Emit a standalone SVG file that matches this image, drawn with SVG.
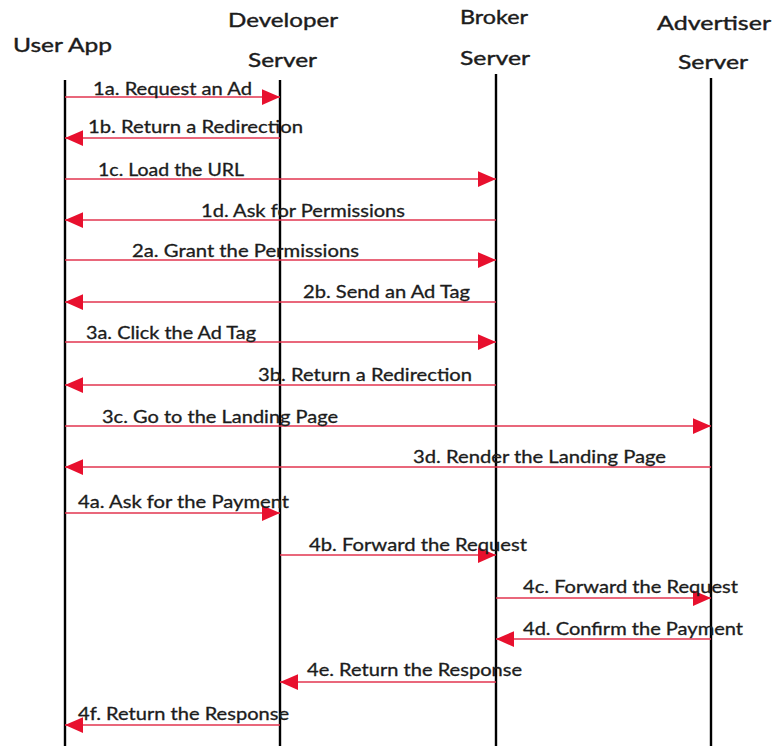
<svg xmlns="http://www.w3.org/2000/svg" width="773" height="746" viewBox="0 0 773 746">
<defs>
<style>
.hdr{font-family:Lato,"Open Sans","Liberation Sans",sans-serif;font-size:20px;fill:#1c1c1c;stroke:#1c1c1c;stroke-width:0.4}
.lbl{font-family:Lato,"Open Sans","Liberation Sans",sans-serif;font-size:16.5px;fill:#1c1c1c;stroke:#1c1c1c;stroke-width:0.3}
.life{stroke:#000;stroke-width:2.4;fill:none}
.msg{stroke:#e2344f;stroke-width:1.4;fill:none;marker-end:url(#ah)}
</style>
<marker id="ah" markerUnits="userSpaceOnUse" markerWidth="18" markerHeight="16" viewBox="0 0 16 14" refX="16" refY="7" orient="auto">
<path d="M0,0 L16,7 L0,14 Z" fill="#e8102e"/>
</marker>
</defs>
<rect width="773" height="746" fill="#fff"/>
<g id="user-app">
<text class="hdr" x="13" y="52" textLength="99" lengthAdjust="spacingAndGlyphs">User App</text>
<line class="life" x1="65" y1="80" x2="65" y2="746"/>
</g>
<g id="developer-server">
<text class="hdr" x="228" y="27" textLength="110" lengthAdjust="spacingAndGlyphs">Developer</text>
<text class="hdr" x="248" y="67" textLength="69" lengthAdjust="spacingAndGlyphs">Server</text>
<line class="life" x1="280" y1="80" x2="280" y2="746"/>
</g>
<g id="broker-server">
<text class="hdr" x="460" y="24" textLength="68" lengthAdjust="spacingAndGlyphs">Broker</text>
<text class="hdr" x="460" y="65" textLength="70" lengthAdjust="spacingAndGlyphs">Server</text>
<line class="life" x1="496" y1="74" x2="496" y2="746"/>
</g>
<g id="advertiser-server">
<text class="hdr" x="657" y="30" textLength="114" lengthAdjust="spacingAndGlyphs">Advertiser</text>
<text class="hdr" x="678" y="69" textLength="70" lengthAdjust="spacingAndGlyphs">Server</text>
<line class="life" x1="711" y1="78" x2="711" y2="746"/>
</g>
<g id="connectors">
<line class="msg" x1="65" y1="97" x2="280" y2="97"/>
<line class="msg" x1="280" y1="138" x2="65" y2="138"/>
<line class="msg" x1="65" y1="179" x2="496" y2="179"/>
<line class="msg" x1="496" y1="220" x2="65" y2="220"/>
<line class="msg" x1="65" y1="260" x2="496" y2="260"/>
<line class="msg" x1="496" y1="302" x2="65" y2="302"/>
<line class="msg" x1="65" y1="342" x2="496" y2="342"/>
<line class="msg" x1="496" y1="385" x2="65" y2="385"/>
<line class="msg" x1="65" y1="426" x2="711" y2="426"/>
<line class="msg" x1="711" y1="467" x2="65" y2="467"/>
<line class="msg" x1="65" y1="513" x2="280" y2="513"/>
<line class="msg" x1="280" y1="555" x2="496" y2="555"/>
<line class="msg" x1="496" y1="598" x2="711" y2="598"/>
<line class="msg" x1="711" y1="639" x2="496" y2="639"/>
<line class="msg" x1="496" y1="682" x2="280" y2="682"/>
<line class="msg" x1="280" y1="725" x2="65" y2="725"/>
</g>
<g id="labels">
<text class="lbl" x="93" y="95" textLength="159" lengthAdjust="spacingAndGlyphs">1a. Request an Ad</text>
<text class="lbl" x="88" y="133" textLength="215" lengthAdjust="spacingAndGlyphs">1b. Return a Redirection</text>
<text class="lbl" x="98" y="176" textLength="146" lengthAdjust="spacingAndGlyphs">1c. Load the URL</text>
<text class="lbl" x="201" y="217" textLength="204" lengthAdjust="spacingAndGlyphs">1d. Ask for Permissions</text>
<text class="lbl" x="132" y="257" textLength="227" lengthAdjust="spacingAndGlyphs">2a. Grant the Permissions</text>
<text class="lbl" x="303" y="298" textLength="167" lengthAdjust="spacingAndGlyphs">2b. Send an Ad Tag</text>
<text class="lbl" x="86" y="339" textLength="170" lengthAdjust="spacingAndGlyphs">3a. Click the Ad Tag</text>
<text class="lbl" x="258" y="381" textLength="214" lengthAdjust="spacingAndGlyphs">3b. Return a Redirection</text>
<text class="lbl" x="102" y="423" textLength="236" lengthAdjust="spacingAndGlyphs">3c. Go to the Landing Page</text>
<text class="lbl" x="413" y="463" textLength="253" lengthAdjust="spacingAndGlyphs">3d. Render the Landing Page</text>
<text class="lbl" x="78" y="508" textLength="211" lengthAdjust="spacingAndGlyphs">4a. Ask for the Payment</text>
<text class="lbl" x="309" y="551" textLength="218" lengthAdjust="spacingAndGlyphs">4b. Forward the Request</text>
<text class="lbl" x="523" y="593" textLength="215" lengthAdjust="spacingAndGlyphs">4c. Forward the Request</text>
<text class="lbl" x="523" y="635" textLength="220" lengthAdjust="spacingAndGlyphs">4d. Confirm the Payment</text>
<text class="lbl" x="307" y="676" textLength="215" lengthAdjust="spacingAndGlyphs">4e. Return the Response</text>
<text class="lbl" x="78" y="720" textLength="211" lengthAdjust="spacingAndGlyphs">4f. Return the Response</text>
</g>
</svg>
